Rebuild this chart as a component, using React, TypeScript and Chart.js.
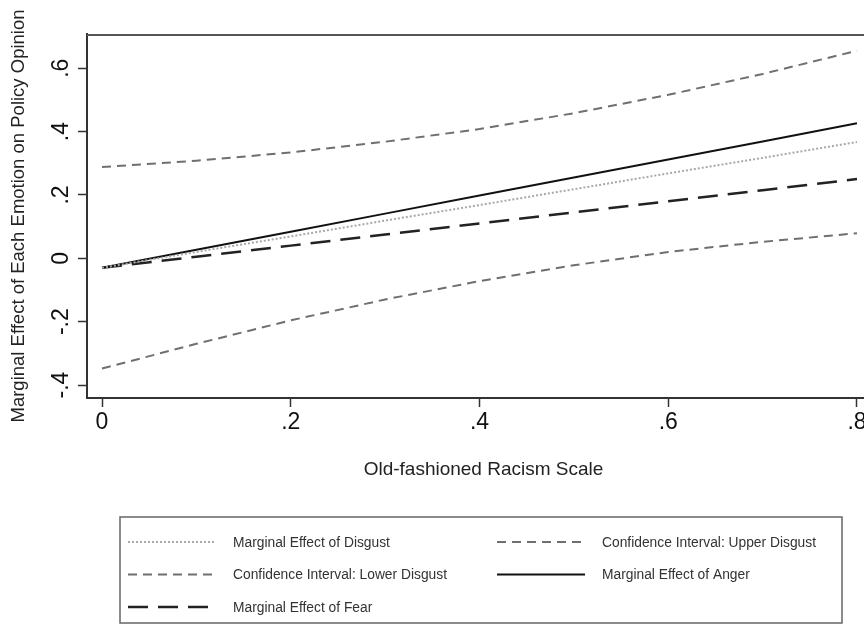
import React, { useEffect, useRef } from "react";
import { Chart, registerables } from "chart.js";

Chart.register(...registerables);

// ---- data ----
const xValues = [0, 0.1, 0.2, 0.3, 0.4, 0.5, 0.6, 0.7, 0.8];
const disgust = [-0.03, 0.02, 0.069, 0.119, 0.168, 0.218, 0.268, 0.317, 0.367];
const upperDisgust = [0.288, 0.308, 0.334, 0.368, 0.408, 0.458, 0.516, 0.582, 0.655];
const lowerDisgust = [-0.348, -0.27, -0.196, -0.13, -0.072, -0.022, 0.02, 0.052, 0.079];
const anger = [-0.03, 0.027, 0.084, 0.141, 0.198, 0.255, 0.312, 0.369, 0.426];
const fear = [-0.03, 0.005, 0.04, 0.075, 0.11, 0.145, 0.18, 0.215, 0.25];

const seriesLabels = [
  "Marginal Effect of Disgust",
  "Confidence Interval: Upper Disgust",
  "Confidence Interval: Lower Disgust",
  "Marginal Effect of Anger",
  "Marginal Effect of Fear",
];

const xTickValues = [0, 0.2, 0.4, 0.6, 0.8];
const xTickLabels = ["0", ".2", ".4", ".6", ".8"];
const yTickValues = [-0.4, -0.2, 0, 0.2, 0.4, 0.6];
const yTickLabels = ["-.4", "-.2", "0", ".2", ".4", ".6"];

const xTitle = "Old-fashioned Racism Scale";
const yTitle = "Marginal Effect of Each Emotion on Policy Opinion";

const FONT = "'Liberation Sans', Arial, Helvetica, sans-serif";

const toPoints = (ys: number[]) => xValues.map((x, i) => ({ x, y: ys[i] }));

const frameAndLegend = {
  id: "frameAndLegend",
  afterDraw(chart: any) {
    const ctx = chart.ctx as CanvasRenderingContext2D;
    const { left, right, top } = chart.chartArea;
    ctx.save();
    // top frame line
    ctx.strokeStyle = "#555";
    ctx.lineWidth = 2;
    ctx.setLineDash([]);
    ctx.beginPath();
    ctx.moveTo(left, top + 1);
    ctx.lineTo(right, top + 1);
    ctx.stroke();

    // legend box
    ctx.strokeStyle = "#666";
    ctx.lineWidth = 1.5;
    ctx.strokeRect(120, 517, 722, 106);

    chart.data.datasets.forEach((ds: any, i: number) => {
      const col = i % 2;
      const row = Math.floor(i / 2);
      const x0 = col === 0 ? 128 : 497;
      const x1 = x0 + 88;
      const tx = col === 0 ? 233 : 602;
      const y = 542 + row * 32.5;
      ctx.setLineDash(ds.borderDash || []);
      ctx.strokeStyle = ds.borderColor;
      ctx.lineWidth = ds.borderWidth;
      ctx.beginPath();
      ctx.moveTo(x0, y);
      ctx.lineTo(x1, y);
      ctx.stroke();
      ctx.setLineDash([]);
      ctx.fillStyle = "#333";
      ctx.font = `13.8px ${FONT}`;
      ctx.textBaseline = "middle";
      ctx.textAlign = "left";
      ctx.fillText(ds.label, tx, y + 1);
    });
    ctx.restore();
  },
};

export default function App() {
  const canvasRef = useRef<HTMLCanvasElement | null>(null);

  useEffect(() => {
    if (!canvasRef.current) return;
    const chart = new Chart(canvasRef.current, {
      type: "line",
      data: {
        datasets: [
          {
            label: seriesLabels[0],
            data: toPoints(disgust),
            borderColor: "#a8a8a8",
            borderWidth: 2,
            borderDash: [2, 2],
          },
          {
            label: seriesLabels[1],
            data: toPoints(upperDisgust),
            borderColor: "#6f6f6f",
            borderWidth: 2,
            borderDash: [9, 6],
          },
          {
            label: seriesLabels[2],
            data: toPoints(lowerDisgust),
            borderColor: "#6f6f6f",
            borderWidth: 2,
            borderDash: [9, 6],
          },
          {
            label: seriesLabels[3],
            data: toPoints(anger),
            borderColor: "#111",
            borderWidth: 2,
            borderDash: [],
          },
          {
            label: seriesLabels[4],
            data: toPoints(fear),
            borderColor: "#222",
            borderWidth: 2.5,
            borderDash: [20, 10],
          },
        ] as any,
      },
      options: {
        animation: false,
        responsive: true,
        maintainAspectRatio: false,
        elements: { point: { radius: 0 }, line: { tension: 0 } },
        layout: { padding: { left: 0, top: 34, right: 0, bottom: 136 } },
        plugins: { legend: { display: false }, tooltip: { enabled: false } },
        scales: {
          x: {
            type: "linear",
            min: -0.0159,
            max: 0.8244,
            afterBuildTicks: (scale: any) => {
              scale.ticks = xTickValues.map((v) => ({ value: v }));
            },
            afterFit: (scale: any) => {
              scale.height = 92;
              scale.paddingLeft = 0;
              scale.paddingRight = 0;
            },
            border: { display: true, color: "#333", width: 2 },
            grid: {
              display: true,
              drawOnChartArea: false,
              drawTicks: true,
              tickLength: 9,
              tickColor: "#333",
              tickWidth: 1.5,
            },
            ticks: {
              autoSkip: false,
              maxRotation: 0,
              minRotation: 0,
              padding: 2,
              color: "#111",
              font: { family: FONT, size: 23 },
              callback: (_v: any, i: number) => xTickLabels[i],
            },
            title: {
              display: true,
              text: xTitle,
              color: "#222",
              font: { family: FONT, size: 19 },
              padding: { top: 0, bottom: 8.6 },
            },
          },
          y: {
            type: "linear",
            min: -0.441,
            max: 0.708,
            afterBuildTicks: (scale: any) => {
              scale.ticks = yTickValues.map((v) => ({ value: v }));
            },
            afterFit: (scale: any) => {
              scale.width = 87;
              scale.paddingTop = 0;
              scale.paddingBottom = 0;
            },
            border: { display: true, color: "#333", width: 2 },
            grid: {
              display: true,
              drawOnChartArea: false,
              drawTicks: true,
              tickLength: 9,
              tickColor: "#333",
              tickWidth: 1.5,
            },
            ticks: {
              autoSkip: false,
              minRotation: 90,
              maxRotation: 90,
              crossAlign: "center",
              padding: 3,
              color: "#111",
              font: { family: FONT, size: 23 },
              callback: (_v: any, i: number) => yTickLabels[i],
            },
            title: {
              display: true,
              text: yTitle,
              color: "#222",
              font: { family: FONT, size: 18.5 },
              padding: { top: 8, bottom: 0 },
            },
          },
        },
      } as any,
      plugins: [frameAndLegend],
    });
    return () => chart.destroy();
  }, []);

  return (
    <div
      style={{
        position: "fixed",
        left: 0,
        top: 0,
        width: 864,
        height: 626,
        overflow: "hidden",
        background: "#fff",
      }}
    >
      <div style={{ position: "relative", width: 880, height: 626 }}>
        <canvas ref={canvasRef} />
      </div>
    </div>
  );
}
